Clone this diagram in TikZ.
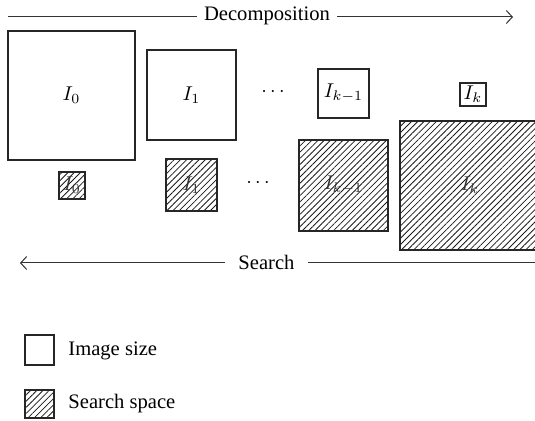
\documentclass[tikz,border=0pt]{standalone}
\usepackage{fontspec}
\setmainfont{Liberation Serif}
\usetikzlibrary{arrows.meta,patterns.meta}
\begin{document}
\begin{tikzpicture}[x=0.5pt,y=-0.5pt,
  imgbox/.style={draw=black!85,line width=0.6pt,inner sep=0pt,font=\fontsize{10.3}{12}\selectfont},
  hatchbox/.style={draw=black!85,line width=0.6pt,inner sep=0pt,text=black!80,
    pattern={Lines[angle=45,distance=2.2pt,line width=0.4pt]},pattern color=black!90,font=\fontsize{10.3}{12}\selectfont},
  lbl/.style={font=\fontsize{10.3}{12}\selectfont,inner sep=0pt},
  arr/.style={line width=0.5pt,draw=black!80,-{Straight Barb[length=3pt,width=6.5pt]}},
  ln/.style={line width=0.5pt,draw=black!80}]
\useasboundingbox (0,0) rectangle (535,421);
\clip (0,0) rectangle (535,421);
% decomposition arrow
\coordinate (d1) at (8,17);
\coordinate (d2) at (513,17);
\node[lbl] (dec) at (267,16) {Decomposition};
\draw[ln] (d1) -- ([xshift=-3.5pt]dec.west |- d1);
\draw[arr] ([xshift=3.5pt]dec.east |- d1) -- (d2);
% image boxes
\node[imgbox,minimum width=63.5pt,minimum height=64.5pt] (i0) at (71.5,95.5) {$I_0$};
\node[imgbox,minimum width=44.5pt,minimum height=45pt] (i1) at (191.5,95) {$I_1$};
\node[lbl] (dt1) at (273,92) {$\cdots$};
\node[imgbox,minimum width=25.5pt,minimum height=24.5pt] (ik1) at (343.5,93.5) {$I_{k-1}$};
\node[imgbox,minimum width=13pt,minimum height=11.5pt] (ik) at (473,94.5) {$I_k$};
% search boxes
\node[hatchbox,minimum width=13pt,minimum height=13.5pt] (s0) at (72,185.5) {$I_0$};
\node[hatchbox,minimum width=25.5pt,minimum height=26pt] (s1) at (191.5,185) {$I_1$};
\node[lbl] (dt2) at (258,183) {$\cdots$};
\node[hatchbox,minimum width=44.5pt,minimum height=45.5pt] (sk1) at (343.5,185.5) {$I_{k-1}$};
\node[hatchbox,minimum width=73pt,minimum height=64.5pt] (sk) at (473,185.5) {};
\node[lbl,text=black!80] (skl) at (470,185) {$I_k$};
% search arrow
\coordinate (s1a) at (20,263);
\coordinate (s2a) at (540,263);
\node[lbl] (srch) at (266.5,262) {Search};
\draw[arr] ([xshift=-6.5pt]srch.west |- s1a) -- (s1a);
\draw[ln] ([xshift=6.5pt]srch.east |- s1a) -- (s2a);
% legend
\node[imgbox,minimum width=14.5pt,minimum height=15pt] (lg1) at (39.5,350) {};
\node[lbl,anchor=west] (lt1) at (68,351) {Image size};
\node[hatchbox,minimum width=14.5pt,minimum height=14pt] (lg2) at (39.5,404) {};
\node[lbl,anchor=west] (lt2) at (68,404) {Search space};
\end{tikzpicture}
\end{document}
